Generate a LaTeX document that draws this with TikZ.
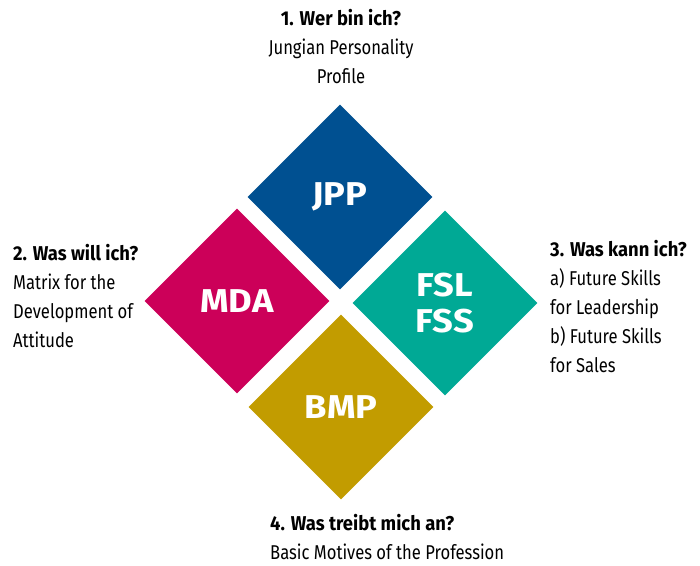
\documentclass[tikz,border=0pt]{standalone}
\usepackage{fontspec}
\setmainfont{Fira Sans}[FakeStretch=0.83]
\newfontfamily\headfont{Fira Sans}[FakeStretch=0.92]
\newfontfamily\tilefont{Fira Sans}[FakeStretch=1.1]
\usetikzlibrary{shapes.geometric}
\definecolor{jppblue}{HTML}{005091}
\definecolor{mdared}{HTML}{CC0059}
\definecolor{fslteal}{HTML}{00A995}
\definecolor{bmpgold}{HTML}{C29C00}
\newcommand{\qhead}[1]{{\headfont\bfseries #1}}
\tikzset{tile/.style = {diamond, aspect=1, minimum width=185pt, minimum height=185pt, inner sep=0pt, text=white, align=center, font=\tilefont\bfseries\fontsize{33}{36}\selectfont},
         caption/.style = {inner sep=0pt, font=\fontsize{20}{29}\selectfont}}

\begin{document}
\begin{tikzpicture}[x=1pt,y=-1pt]
        \useasboundingbox (0,0) rectangle (700,565);
        % the four tiles
        \node[tile, fill=jppblue](jpp)at(340,197){JPP};
        \node[tile, fill=mdared](mda)at(237,301){MDA};
        \node[tile, fill=fslteal](fsl)at(445,303){FSL\\FSS};
        \node[tile, fill=bmpgold](bmp)at(341,407){BMP};

        % the four questions (anchored at the baseline of the last line)
        \node[caption, anchor=base, align=center](who)at(341,83){\qhead{1. Wer bin ich?}\\Jungian Personality\\Profile};
        \node[caption, anchor=base west, align=left](want)at(13,347){\qhead{2. Was will ich?}\\Matrix for the\\Development of\\Attitude};
        \node[caption, anchor=base west, align=left](can)at(550,372){\qhead{3. Was kann ich?}\\a) Future Skills\\for Leadership\\b) Future Skills\\for Sales};
        \node[caption, anchor=base west, align=left](drive)at(270,559){\qhead{4. Was treibt mich an?}\\Basic Motives of the Profession};
    \end{tikzpicture}
\end{document}
